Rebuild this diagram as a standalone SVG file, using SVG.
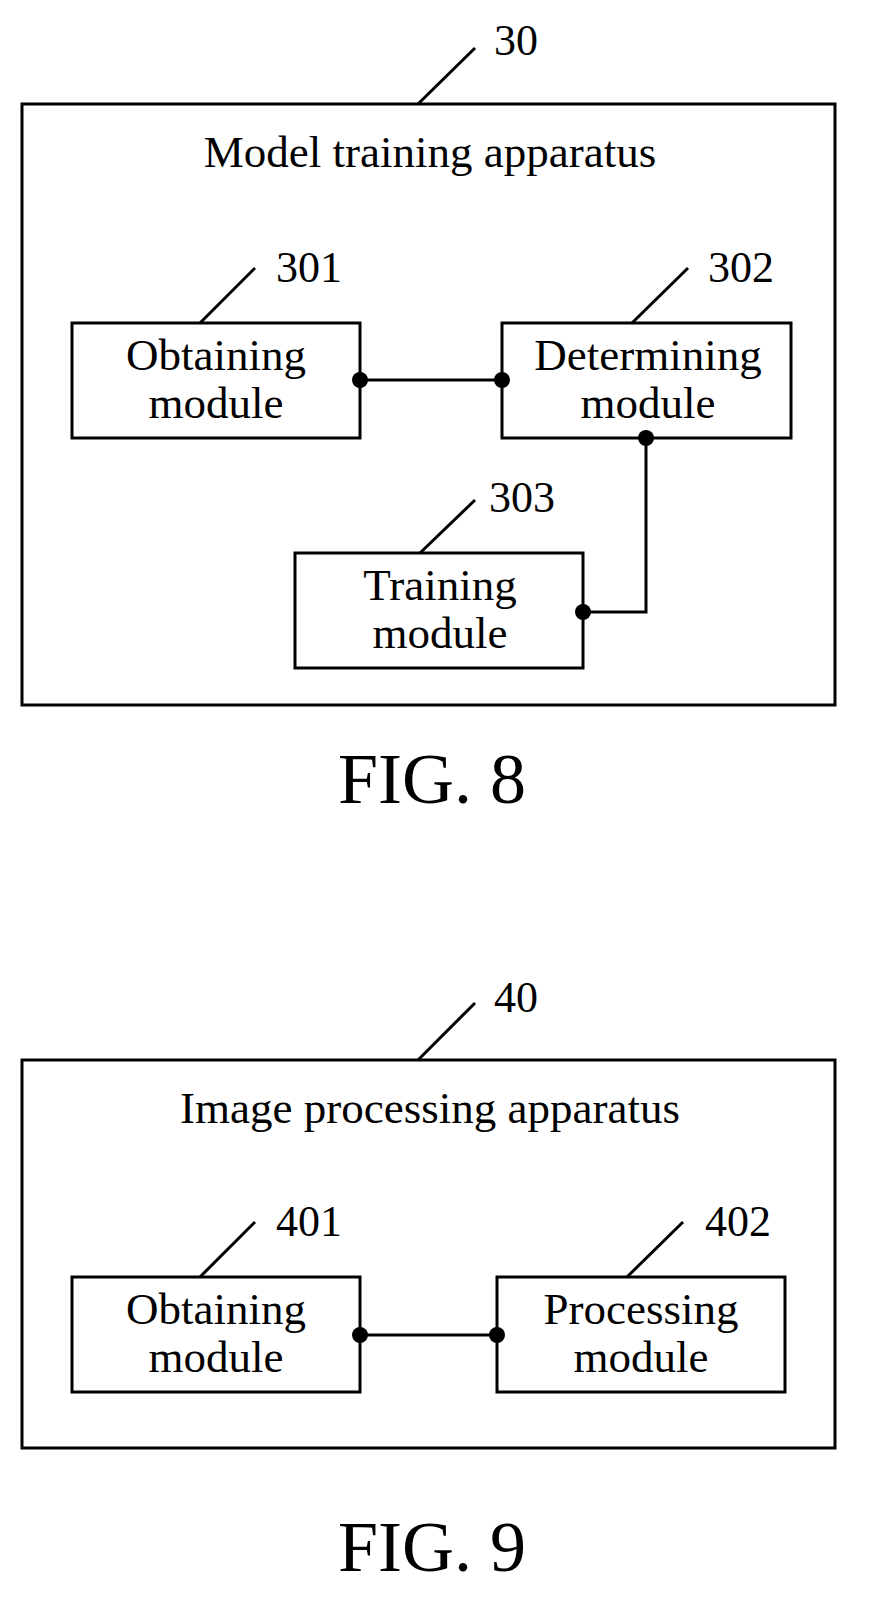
<svg xmlns="http://www.w3.org/2000/svg" width="880" height="1609" viewBox="0 0 880 1609">
<style>
.b{fill:#fff;stroke:#000;stroke-width:3}
.l{stroke:#000;stroke-width:3;fill:none}
text{font-family:"Liberation Serif","Times New Roman",serif;fill:#000;text-anchor:middle}
.t{font-size:45px}
.n{font-size:44px}
.f{font-size:72px}
</style>
<rect width="880" height="1609" fill="#fff"/>
<g id="fig8">
<g id="n30"><rect class="b" x="22" y="104" width="813" height="601"/><line class="l" x1="418" y1="104" x2="475" y2="48"/><text class="n" x="516" y="55">30</text><text class="t" x="430" y="167">Model training apparatus</text></g>
<g id="n301"><rect class="b" x="72" y="323" width="288" height="115"/><line class="l" x1="200" y1="323" x2="255" y2="268"/><text class="n" x="309" y="282">301</text><text class="t" x="216" y="370">Obtaining</text><text class="t" x="216" y="418">module</text></g>
<g id="n302"><rect class="b" x="502" y="323" width="289" height="115"/><line class="l" x1="632" y1="323" x2="688" y2="268"/><text class="n" x="741" y="282">302</text><text class="t" x="648" y="370">Determining</text><text class="t" x="648" y="418">module</text></g>
<g id="n303"><rect class="b" x="295" y="553" width="288" height="115"/><line class="l" x1="420" y1="553" x2="475" y2="500"/><text class="n" x="522" y="512">303</text><text class="t" x="440" y="600">Training</text><text class="t" x="440" y="648">module</text></g>
<text class="f" x="432" y="803">FIG. 8</text>
</g>
<g id="fig9">
<g id="n40"><rect class="b" x="22" y="1060" width="813" height="388"/><line class="l" x1="418" y1="1060" x2="475" y2="1003"/><text class="n" x="516" y="1012">40</text><text class="t" x="430" y="1123">Image processing apparatus</text></g>
<g id="n401"><rect class="b" x="72" y="1277" width="288" height="115"/><line class="l" x1="200" y1="1277" x2="255" y2="1222"/><text class="n" x="309" y="1236">401</text><text class="t" x="216" y="1324">Obtaining</text><text class="t" x="216" y="1372">module</text></g>
<g id="n402"><rect class="b" x="497" y="1277" width="288" height="115"/><line class="l" x1="627" y1="1277" x2="683" y2="1222"/><text class="n" x="738" y="1236">402</text><text class="t" x="641" y="1324">Processing</text><text class="t" x="641" y="1372">module</text></g>
<text class="f" x="432" y="1571">FIG. 9</text>
</g>
<g id="connectors">
<line class="l" x1="360" y1="380" x2="502" y2="380"/>
<polyline class="l" points="646,438 646,612 583,612"/>
<line class="l" x1="360" y1="1335" x2="497" y2="1335"/>
<circle cx="360" cy="380" r="8"/><circle cx="502" cy="380" r="8"/>
<circle cx="646" cy="438" r="8"/><circle cx="583" cy="612" r="8"/>
<circle cx="360" cy="1335" r="8"/><circle cx="497" cy="1335" r="8"/>
</g>
</svg>
